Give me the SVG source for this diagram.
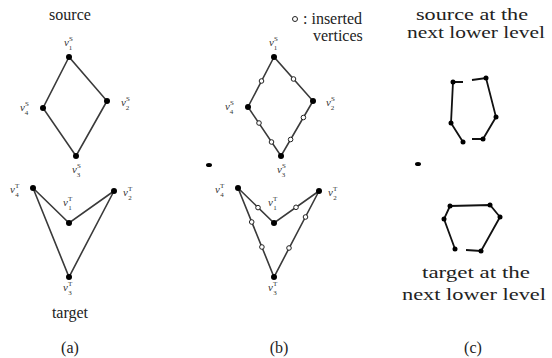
<svg xmlns="http://www.w3.org/2000/svg" width="552" height="358" viewBox="0 0 552 358">
<style>
.t{font-family:"Liberation Serif","Times New Roman",serif;font-size:16px;fill:#222;text-anchor:middle}
.lbl{font-family:"Liberation Serif","Times New Roman",serif;font-size:11px;fill:#333}
.it{font-style:italic}
.sc{font-size:7px}
.e{stroke:#3a3a3a;stroke-width:1.6;fill:none}
.c{stroke:#111;stroke-width:1.8;fill:none}
.v{fill:#000}
.ins{fill:#fff;stroke:#222;stroke-width:1}
</style>
<rect width="552" height="358" fill="#fff"/>
<g id="connectors">
<path class="e" d="M69,57 L43,108 L76,156 L107,101 Z"/>
<path class="e" d="M33,188 L69,223 L114,191 L69,277 Z"/>
<path class="e" d="M274,57 L248,107 L281,156 L313,101 Z"/>
<path class="e" d="M238,188 L274,223 L319,191 L274,277 Z"/>
<path class="c" d="M463,82 L453,82 L451,123 L463,142"/>
<path class="c" d="M472,80 L486,78 L496,117 L483,139 L472,139"/>
<path class="c" d="M450,206 L490,205 L500,217 L481,251 L466,250"/>
<path class="c" d="M450,206 L444,219 L455,249"/>
</g>
<g id="a-source">
<text class="t" x="70" y="20">source</text>
<g id="a-s1"><circle class="v" cx="69" cy="57" r="3"/><text class="lbl" x="64" y="46"><tspan class="it">v</tspan><tspan class="sc" dy="-5">S</tspan><tspan class="sc" dx="-4" dy="9">1</tspan></text></g>
<g id="a-s4"><circle class="v" cx="43" cy="108" r="3"/><text class="lbl" x="20" y="111"><tspan class="it">v</tspan><tspan class="sc" dy="-5">S</tspan><tspan class="sc" dx="-4" dy="9">4</tspan></text></g>
<g id="a-s2"><circle class="v" cx="107" cy="101" r="3"/><text class="lbl" x="121" y="106"><tspan class="it">v</tspan><tspan class="sc" dy="-5">S</tspan><tspan class="sc" dx="-4" dy="9">2</tspan></text></g>
<g id="a-s3"><circle class="v" cx="76" cy="156" r="3"/><text class="lbl" x="72" y="173"><tspan class="it">v</tspan><tspan class="sc" dy="-5">S</tspan><tspan class="sc" dx="-4" dy="9">3</tspan></text></g>
</g>
<g id="a-target">
<g id="a-t4"><circle class="v" cx="33" cy="188" r="3"/><text class="lbl" x="10" y="193"><tspan class="it">v</tspan><tspan class="sc" dy="-5">T</tspan><tspan class="sc" dx="-4" dy="9">4</tspan></text></g>
<g id="a-t1"><circle class="v" cx="69" cy="223" r="3"/><text class="lbl" x="63" y="206"><tspan class="it">v</tspan><tspan class="sc" dy="-5">T</tspan><tspan class="sc" dx="-4" dy="9">1</tspan></text></g>
<g id="a-t2"><circle class="v" cx="114" cy="191" r="3"/><text class="lbl" x="123" y="196"><tspan class="it">v</tspan><tspan class="sc" dy="-5">T</tspan><tspan class="sc" dx="-4" dy="9">2</tspan></text></g>
<g id="a-t3"><circle class="v" cx="69" cy="277" r="3"/><text class="lbl" x="63" y="291"><tspan class="it">v</tspan><tspan class="sc" dy="-5">T</tspan><tspan class="sc" dx="-4" dy="9">3</tspan></text></g>
<text class="t" x="70" y="318">target</text>
<text class="t" x="70" y="353">(a)</text>
</g>
<g id="b-source">
<g id="b-s1"><circle class="v" cx="274" cy="57" r="3"/><text class="lbl" x="269" y="46"><tspan class="it">v</tspan><tspan class="sc" dy="-5">S</tspan><tspan class="sc" dx="-4" dy="9">1</tspan></text></g>
<g id="b-s4"><circle class="v" cx="248" cy="107" r="3"/><text class="lbl" x="225" y="110"><tspan class="it">v</tspan><tspan class="sc" dy="-5">S</tspan><tspan class="sc" dx="-4" dy="9">4</tspan></text></g>
<g id="b-s2"><circle class="v" cx="313" cy="101" r="3"/><text class="lbl" x="326" y="106"><tspan class="it">v</tspan><tspan class="sc" dy="-5">S</tspan><tspan class="sc" dx="-4" dy="9">2</tspan></text></g>
<g id="b-s3"><circle class="v" cx="281" cy="156" r="3"/><text class="lbl" x="277" y="173"><tspan class="it">v</tspan><tspan class="sc" dy="-5">S</tspan><tspan class="sc" dx="-4" dy="9">3</tspan></text></g>
<g id="b-ins-s">
<circle class="ins" cx="261.5" cy="81" r="2.3"/>
<circle class="ins" cx="293.5" cy="79" r="2.3"/>
<circle class="ins" cx="259" cy="123" r="2.3"/>
<circle class="ins" cx="271.5" cy="142" r="2.3"/>
<circle class="ins" cx="303.4" cy="117.5" r="2.3"/>
<circle class="ins" cx="290.6" cy="139.5" r="2.3"/>
</g>
</g>
<g id="b-target">
<g id="b-t4"><circle class="v" cx="238" cy="188" r="3"/><text class="lbl" x="215" y="193"><tspan class="it">v</tspan><tspan class="sc" dy="-5">T</tspan><tspan class="sc" dx="-4" dy="9">4</tspan></text></g>
<g id="b-t1"><circle class="v" cx="274" cy="223" r="3"/><text class="lbl" x="268" y="206"><tspan class="it">v</tspan><tspan class="sc" dy="-5">T</tspan><tspan class="sc" dx="-4" dy="9">1</tspan></text></g>
<g id="b-t2"><circle class="v" cx="319" cy="191" r="3"/><text class="lbl" x="328" y="196"><tspan class="it">v</tspan><tspan class="sc" dy="-5">T</tspan><tspan class="sc" dx="-4" dy="9">2</tspan></text></g>
<g id="b-t3"><circle class="v" cx="274" cy="277" r="3"/><text class="lbl" x="268" y="291"><tspan class="it">v</tspan><tspan class="sc" dy="-5">T</tspan><tspan class="sc" dx="-4" dy="9">3</tspan></text></g>
<g id="b-ins-t">
<circle class="ins" cx="258" cy="207.6" r="2.3"/>
<circle class="ins" cx="296" cy="207.3" r="2.3"/>
<circle class="ins" cx="251.7" cy="222" r="2.3"/>
<circle class="ins" cx="261.9" cy="247" r="2.3"/>
<circle class="ins" cx="305.5" cy="217" r="2.3"/>
<circle class="ins" cx="289" cy="248" r="2.3"/>
</g>
<text class="t" x="279" y="353">(b)</text>
</g>
<g id="legend">
<circle class="ins" cx="295" cy="19" r="2.5"/>
<text class="t" x="303" y="24" style="text-anchor:start">: inserted</text>
<text class="t" x="313" y="41" style="text-anchor:start">vertices</text>
</g>
<g id="mark-b"><ellipse class="v" cx="209" cy="165" rx="3" ry="2"/></g>
<g id="mark-c"><ellipse class="v" cx="418" cy="164" rx="3" ry="2"/></g>
<g id="c-source">
<text class="t" x="472" y="20" textLength="112" lengthAdjust="spacingAndGlyphs">source at the</text>
<text class="t" x="476" y="38" textLength="138" lengthAdjust="spacingAndGlyphs">next lower level</text>
<circle class="v" cx="453" cy="82" r="2.5"/>
<circle class="v" cx="486" cy="78" r="2.5"/>
<circle class="v" cx="496" cy="117" r="2.5"/>
<circle class="v" cx="483" cy="139" r="2.5"/>
<circle class="v" cx="463" cy="142" r="2.5"/>
<circle class="v" cx="451" cy="123" r="2.5"/>
</g>
<g id="c-target">
<circle class="v" cx="450" cy="206" r="2.5"/>
<circle class="v" cx="490" cy="205" r="2.5"/>
<circle class="v" cx="500" cy="217" r="2.5"/>
<circle class="v" cx="481" cy="251" r="2.5"/>
<circle class="v" cx="455" cy="249" r="2.5"/>
<circle class="v" cx="444" cy="219" r="2.5"/>
<text class="t" x="476" y="278" textLength="108" lengthAdjust="spacingAndGlyphs">target at the</text>
<text class="t" x="474" y="300" textLength="144" lengthAdjust="spacingAndGlyphs">next lower level</text>
<text class="t" x="473" y="353">(c)</text>
</g>
</svg>
